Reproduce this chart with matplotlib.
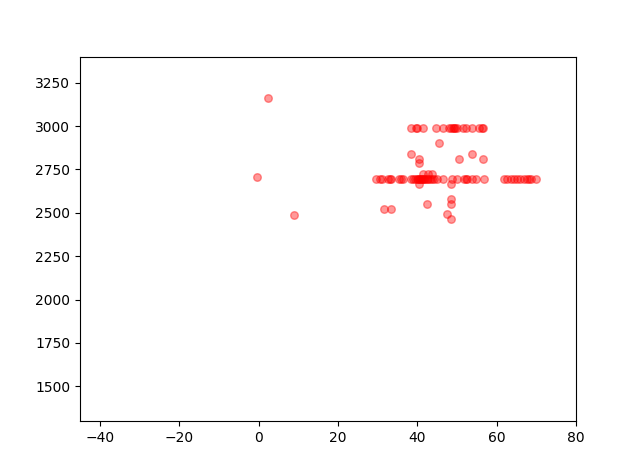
import matplotlib

matplotlib.use("Agg")
import matplotlib.pyplot as plt  # noqa: E402

# values (x, y)
top_x = [38.5, 39.6, 40.0, 41.5, 44.7, 46.6, 48.0, 48.4, 48.9, 49.2, 49.5, 49.9,
         51.6, 52.4, 53.7, 55.6, 56.3, 56.6]
top_y = [2990] * len(top_x)

main_x = [29.5, 30.5, 31.0, 32.6, 33.1, 33.5, 35.4, 36.0, 36.5,
          38.5, 39.0, 39.5, 40.0, 40.2, 40.5, 40.8, 41.0, 41.2, 41.5, 41.8,
          42.0, 42.4, 42.8, 43.2, 43.7, 44.2, 44.9,
          46.6, 48.8, 50.1, 51.8, 52.2, 52.6, 53.9, 54.7, 56.8,
          61.8, 62.7, 63.5, 64.4, 65.2, 66.0, 66.9, 67.7, 68.2, 68.6, 69.8]
main_y = [2695] * len(main_x)

other_x = [45.5, 38.5, 40.5, 40.5, 50.5, 53.7, 56.6,
           41.5, 42.7, 43.6, 40.5, 48.6,
           31.5, 33.4, 42.5, 48.6, 48.6, 47.5, 48.6,
           2.4, -0.4, 8.9]
other_y = [2900, 2837, 2810, 2786, 2808, 2837, 2808,
           2725, 2725, 2725, 2667, 2667,
           2521, 2521, 2552, 2580, 2552, 2494, 2464,
           3165, 2705, 2487]

xs = top_x + main_x + other_x
ys = top_y + main_y + other_y

fig, ax = plt.subplots(figsize=(6.4, 4.73), dpi=100)
ax.scatter(xs, ys, color="red", alpha=0.4, s=30)
ax.set_xlim(-45, 80)
ax.set_ylim(1300, 3400)

fig.savefig("out.png", dpi=100)
